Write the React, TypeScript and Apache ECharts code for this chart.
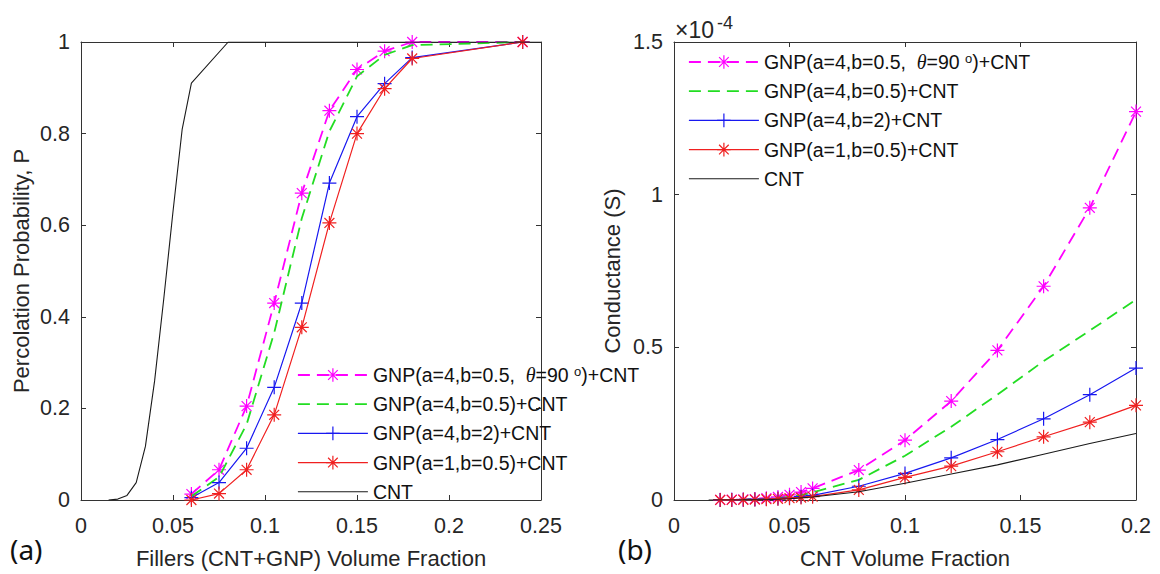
import React, { useEffect, useRef } from 'react';
import * as echarts from 'echarts';

const FONT = '"Liberation Sans", Arial, Helvetica, sans-serif';

// ---------- Panel (a): percolation probability ----------
const fillerFraction = [0.06, 0.075, 0.09, 0.105, 0.12, 0.135, 0.15, 0.165, 0.18, 0.24];
const pTheta90 = [0.013, 0.066, 0.205, 0.43, 0.67, 0.85, 0.94, 0.98, 1.0, 1.0];
const pA4B05 = [0.008, 0.05, 0.165, 0.365, 0.615, 0.805, 0.925, 0.972, 0.993, 1.0];
const pA4B2 = [0.005, 0.038, 0.113, 0.246, 0.43, 0.692, 0.837, 0.909, 0.966, 1.0];
const pA1B05 = [0.0, 0.014, 0.066, 0.186, 0.377, 0.605, 0.8, 0.898, 0.964, 1.0];
const cntFractionA = [0.015, 0.02, 0.025, 0.03, 0.035, 0.04, 0.045, 0.05, 0.055, 0.06, 0.08, 0.25];
const pCnt = [0, 0.002, 0.01, 0.038, 0.117, 0.26, 0.44, 0.63, 0.81, 0.91, 1.0, 1.0];

// ---------- Panel (b): conductance, in units of 1e-4 S ----------
const cntFractionB = [0.02, 0.025, 0.03, 0.035, 0.04, 0.045, 0.05, 0.055, 0.06, 0.08, 0.1, 0.12, 0.14, 0.16, 0.18, 0.2];
const gTheta90 = [0.0005, 0.001, 0.002, 0.003, 0.006, 0.01, 0.017, 0.026, 0.038, 0.098, 0.196, 0.324, 0.49, 0.7, 0.957, 1.272];
const gA4B05 = [0.0003, 0.0006, 0.001, 0.002, 0.004, 0.006, 0.01, 0.016, 0.025, 0.066, 0.145, 0.24, 0.345, 0.455, 0.555, 0.656];
const gA4B2 = [0.0002, 0.0005, 0.001, 0.002, 0.003, 0.005, 0.008, 0.011, 0.015, 0.045, 0.087, 0.138, 0.198, 0.266, 0.345, 0.432];
const gA1B05 = [0.0002, 0.0004, 0.0008, 0.0015, 0.0025, 0.004, 0.006, 0.008, 0.011, 0.033, 0.074, 0.111, 0.158, 0.207, 0.255, 0.31];
const cntOnlyFractionB = [0.015, 0.02, 0.03, 0.04, 0.05, 0.06, 0.08, 0.1, 0.12, 0.14, 0.16, 0.18, 0.2];
const gCnt = [0, 0.0001, 0.0005, 0.001, 0.004, 0.01, 0.027, 0.055, 0.085, 0.115, 0.15, 0.185, 0.218];

// axis ranges
const xAxisA = { min: 0, max: 0.25, interval: 0.05 };
const yAxisA = { min: 0, max: 1, interval: 0.2 };
const xAxisB = { min: 0, max: 0.2, interval: 0.05 };
const yAxisB = { min: 0, max: 1.5, interval: 0.5 };

const NAMES = [
  'GNP(a=4,b=0.5, θ=90°)+CNT',
  'GNP(a=4,b=0.5)+CNT',
  'GNP(a=4,b=2)+CNT',
  'GNP(a=1,b=0.5)+CNT',
  'CNT',
];

const STAR = 'path://M0 5L10 5M5 0L5 10M1.46 1.46L8.54 8.54M1.46 8.54L8.54 1.46';
const PLUS = 'path://M0 5L10 5M5 0L5 10';

const STYLES: any[] = [
  { color: '#ff00ff', dash: [12, 7], width: 1.8, symbol: STAR },
  { color: '#22dd22', dash: [12, 7], width: 1.8, symbol: 'none' },
  { color: '#1818f0', dash: 'solid', width: 1.2, symbol: PLUS },
  { color: '#f02020', dash: 'solid', width: 1.2, symbol: STAR },
  { color: '#1a1a1a', dash: 'solid', width: 1.1, symbol: 'none' },
];

const zip = (xs: number[], ys: number[]) => xs.map((x, i) => [x, ys[i]]);

function mkSeries(i: number, data: number[][], xIdx: number, yIdx: number) {
  const s = STYLES[i];
  return {
    type: 'line',
    name: NAMES[i],
    xAxisIndex: xIdx,
    yAxisIndex: yIdx,
    data,
    symbol: s.symbol,
    symbolSize: 14,
    showSymbol: s.symbol !== 'none',
    lineStyle: { color: s.color, width: s.width, type: s.dash },
    itemStyle: { color: s.color, borderColor: s.color, borderWidth: 1.2 },
    emphasis: { disabled: true },
    silent: true,
    z: 2 + i,
  };
}

const AXIS_COLOR = '#333333';
const LABEL_COLOR = '#262626';

function mkAxis(gridIndex: number, range: any, position: string, showLabel: boolean, extra: any = {}) {
  return {
    type: 'value',
    gridIndex,
    min: range.min,
    max: range.max,
    interval: range.interval,
    position,
    axisLine: { show: true, onZero: false, lineStyle: { color: AXIS_COLOR, width: 1 } },
    axisTick: { show: true, inside: true, length: 5, lineStyle: { color: AXIS_COLOR, width: 1 } },
    axisLabel: {
      show: showLabel,
      fontSize: 21.5,
      fontFamily: FONT,
      color: LABEL_COLOR,
      margin: position === 'bottom' ? 15 : 11,
      showMinLabel: true,
      showMaxLabel: true,
    },
    splitLine: { show: false },
    ...extra,
  };
}

function mkLegend(left: number, top: number) {
  return {
    orient: 'vertical',
    left,
    top,
    padding: 0,
    itemWidth: 70,
    itemHeight: 17,
    itemGap: 9.2,
    selectedMode: false,
    textStyle: {
      fontFamily: FONT,
      fontSize: 19.5,
      color: '#111',
      lineHeight: 20,
      rich: {
        th: { fontFamily: '"Liberation Serif", "DejaVu Serif", serif', fontStyle: 'italic', fontSize: 20, color: '#111' },
        sup: { fontFamily: FONT, fontSize: 13, verticalAlign: 'top', color: '#111' },
      },
    },
    formatter: (name: string) => (name === NAMES[0] ? 'GNP(a=4,b=0.5,  {th|θ}=90 {sup|o})+CNT' : name),
    data: NAMES.map((n, i) => ({
      name: n,
      itemStyle: STYLES[i].symbol === 'none' ? { opacity: 0 } : { borderWidth: 1.2 },
      lineStyle: { width: STYLES[i].width },
    })),
  };
}

export default function App() {
  const ref = useRef<HTMLDivElement>(null);
  useEffect(() => {
    if (!ref.current) return;
    const chart = echarts.init(ref.current, undefined, { renderer: 'svg' });
    const option: any = {
      animation: false,
      backgroundColor: '#ffffff',
      grid: [
        { left: 81, top: 42, width: 460, height: 461.5 },
        { left: 674, top: 42, width: 462, height: 461.5 },
      ],
      xAxis: [
        mkAxis(0, xAxisA, 'bottom', true, {
          name: 'Fillers (CNT+GNP) Volume Fraction',
          nameLocation: 'middle',
          nameGap: 47,
          nameTextStyle: { fontSize: 22, fontFamily: FONT, color: LABEL_COLOR },
        }),
        mkAxis(0, xAxisA, 'top', false),
        mkAxis(1, xAxisB, 'bottom', true, {
          name: 'CNT Volume Fraction',
          nameLocation: 'middle',
          nameGap: 47,
          nameTextStyle: { fontSize: 22, fontFamily: FONT, color: LABEL_COLOR },
        }),
        mkAxis(1, xAxisB, 'top', false),
      ],
      yAxis: [
        mkAxis(0, yAxisA, 'left', true, {
          name: 'Percolation Probability, P',
          nameLocation: 'middle',
          nameGap: 49,
          nameTextStyle: { fontSize: 22, fontFamily: FONT, color: LABEL_COLOR },
        }),
        mkAxis(0, yAxisA, 'right', false),
        mkAxis(1, yAxisB, 'left', true, {
          name: 'Conductance (S)',
          nameLocation: 'middle',
          nameGap: 51,
          nameTextStyle: { fontSize: 22, fontFamily: FONT, color: LABEL_COLOR },
        }),
        mkAxis(1, yAxisB, 'right', false),
      ],
      legend: [mkLegend(297, 365), mkLegend(688, 52)],
      graphic: [
        { type: 'text', left: 675, top: 18.5, style: { text: '×10', fontSize: 23, fontFamily: FONT, fill: LABEL_COLOR } },
        { type: 'text', left: 717, top: 14, style: { text: '-4', fontSize: 18, fontFamily: FONT, fill: LABEL_COLOR } },
        { type: 'text', left: 10, top: 535, style: { text: '(a)', fontSize: 28, fontFamily: '"Noto Sans", "Open Sans", sans-serif', fill: '#111' } },
        { type: 'text', left: 618, top: 535, style: { text: '(b)', fontSize: 28, fontFamily: '"Noto Sans", "Open Sans", sans-serif', fill: '#111' } },
      ],
      series: [
        mkSeries(0, zip(fillerFraction, pTheta90), 0, 0),
        mkSeries(1, zip(fillerFraction, pA4B05), 0, 0),
        mkSeries(2, zip(fillerFraction, pA4B2), 0, 0),
        mkSeries(3, zip(fillerFraction, pA1B05), 0, 0),
        mkSeries(4, zip(cntFractionA, pCnt), 0, 0),
        mkSeries(0, zip(cntFractionB, gTheta90), 2, 2),
        mkSeries(1, zip(cntFractionB, gA4B05), 2, 2),
        mkSeries(2, zip(cntFractionB, gA4B2), 2, 2),
        mkSeries(3, zip(cntFractionB, gA1B05), 2, 2),
        mkSeries(4, zip(cntOnlyFractionB, gCnt), 2, 2),
      ],
    };
    chart.setOption(option);
    return () => chart.dispose();
  }, []);
  return (
    <div
      ref={ref}
      style={{ position: 'fixed', left: 0, top: 0, width: 1160, height: 574, background: '#fff' }}
    />
  );
}
